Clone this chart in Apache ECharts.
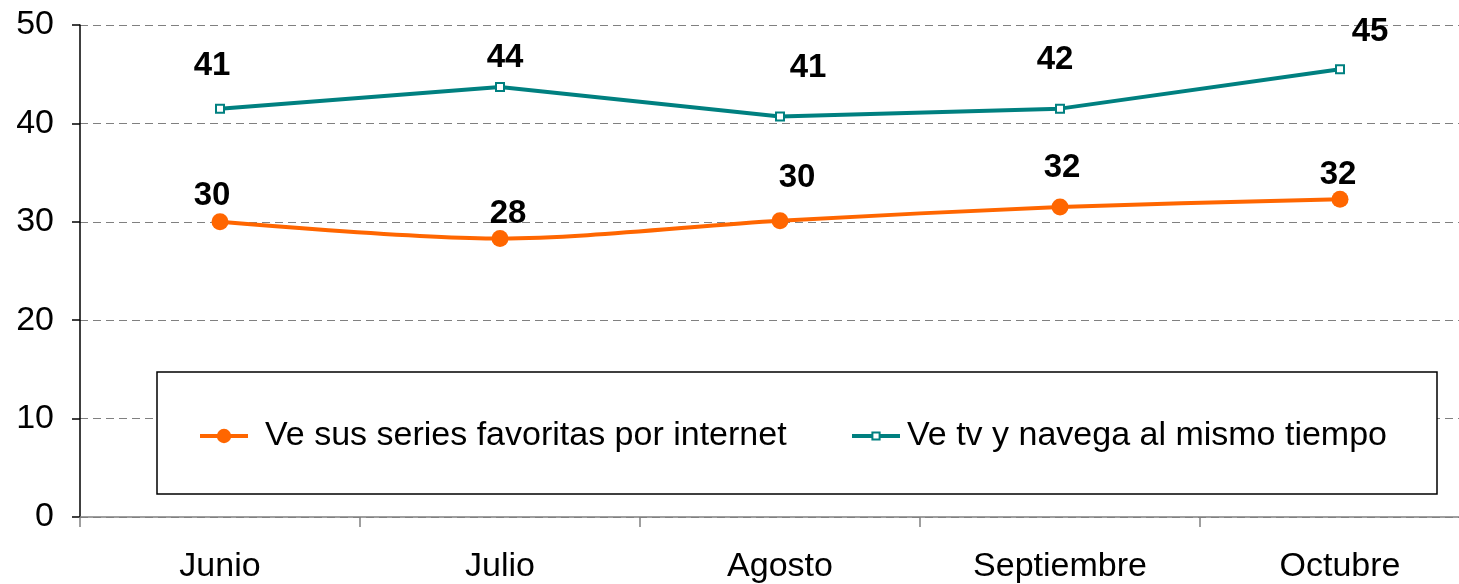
<!DOCTYPE html>
<html>
<head>
<meta charset="utf-8">
<script src="https://cdn.jsdelivr.net/npm/echarts@6/dist/echarts.min.js"></script>
<style>
html,body{margin:0;padding:0;background:#fff;overflow:hidden;width:1459px;height:584px;}
#c{width:1480px;height:584px;}
</style>
</head>
<body>
<div id="c"></div>
<script>
// ---- data ----
const categories = ['Junio', 'Julio', 'Agosto', 'Septiembre', 'Octubre'];
const seriesNames = ['Ve sus series favoritas por internet', 'Ve tv y navega al mismo tiempo'];
const internetValues = [30.0, 28.3, 30.1, 31.5, 32.3];
const internetLabels = ['30', '28', '30', '32', '32'];
const tvValues = [41.5, 43.7, 40.7, 41.5, 45.5];
const tvLabels = ['41', '44', '41', '42', '45'];
const yTicks = [0, 10, 20, 30, 40, 50];

// ---- label placement (styling, not data) ----
const internetLabelOffsets = [[-8, -26], [8, -25], [17, -43], [2, -39], [-2, -24]];
const tvLabelOffsets = [[-8, -43], [5, -29], [28, -49], [-5, -49], [30, -37]];

const FONT = '"Liberation Sans", Arial, sans-serif';
const ORANGE = '#FF6600';
const TEAL = '#008080';

function buildData(values, labels, offsets) {
  return values.map((v, i) => ({
    value: v,
    label: { offset: offsets[i], formatter: labels[i] }
  }));
}

const chart = echarts.init(document.getElementById('c'), null, { renderer: 'canvas' });
chart.setOption({
  animation: false,
  backgroundColor: '#fff',
  grid: { left: 80, right: 0, top: 25, bottom: 66 },
  xAxis: {
    type: 'category',
    data: categories,
    boundaryGap: true,
    axisLine: { lineStyle: { color: '#808080', width: 1.5 } },
    axisTick: { show: true, length: 10, inside: false, lineStyle: { color: '#808080', width: 1.5 } },
    axisLabel: { color: '#000', fontFamily: FONT, fontSize: 34, margin: 33 },
    splitLine: { show: false }
  },
  yAxis: {
    type: 'value',
    min: yTicks[0],
    max: yTicks[yTicks.length - 1],
    interval: 10,
    axisLine: { show: true, lineStyle: { color: '#000', width: 1.5 } },
    axisTick: { show: true, length: 8, lineStyle: { color: '#000', width: 1.5 } },
    axisLabel: { color: '#000', fontFamily: FONT, fontSize: 34, margin: 26 },
    splitLine: { show: true, lineStyle: { color: '#808080', type: [8, 5], width: 1.2 } }
  },
  graphic: [{
    type: 'rect',
    z: 3,
    shape: { x: 157, y: 372, width: 1280, height: 122 },
    style: { fill: '#fff', stroke: '#000', lineWidth: 1.5 }
  }],
  legend: [{
    data: [seriesNames[0]],
    left: 193, top: 414,
    z: 5,
    itemWidth: 48, itemHeight: 18,
    lineStyle: { width: 4 },
    textStyle: { color: '#000', fontFamily: FONT, fontSize: 34, padding: [0, 0, 0, 12] }
  }, {
    data: [seriesNames[1]],
    left: 845, top: 414,
    z: 5,
    itemWidth: 48, itemHeight: 9,
    lineStyle: { width: 4 },
    textStyle: { color: '#000', fontFamily: FONT, fontSize: 34, padding: [0, 0, 0, 2] }
  }],
  series: [{
    name: seriesNames[0],
    type: 'line',
    data: buildData(internetValues, internetLabels, internetLabelOffsets),
    smooth: 0.3,
    symbol: 'circle',
    symbolSize: 17,
    itemStyle: { color: ORANGE },
    lineStyle: { color: ORANGE, width: 4 },
    label: {
      show: true, position: 'inside',
      color: '#000', fontFamily: FONT, fontWeight: 'bold', fontSize: 33
    }
  }, {
    name: seriesNames[1],
    type: 'line',
    data: buildData(tvValues, tvLabels, tvLabelOffsets),
    smooth: false,
    symbol: 'rect',
    symbolSize: 8,
    itemStyle: { color: '#fff', borderColor: TEAL, borderWidth: 2 },
    lineStyle: { color: TEAL, width: 4 },
    label: {
      show: true, position: 'inside',
      color: '#000', fontFamily: FONT, fontWeight: 'bold', fontSize: 33
    }
  }]
});
</script>
</body>
</html>
